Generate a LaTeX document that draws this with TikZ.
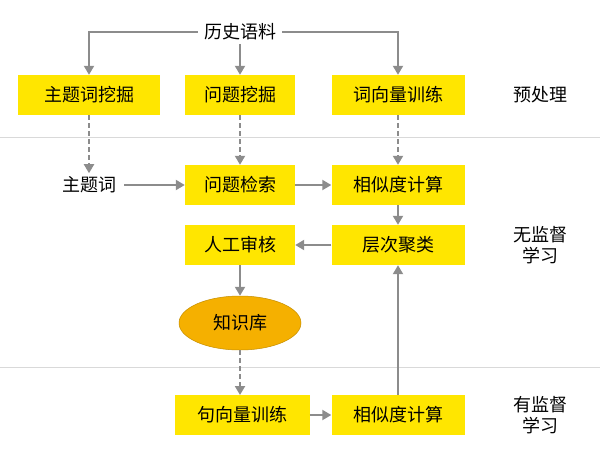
\documentclass[tikz,border=0pt]{standalone}
\usepackage{fontspec}
\setmainfont{Noto Sans CJK SC}
\usetikzlibrary{arrows.meta,shapes.geometric}
\definecolor{ybox}{HTML}{FFE600}
\definecolor{orng}{HTML}{F5B000}
\definecolor{ln}{HTML}{8C8C8C}
\begin{document}
\begin{tikzpicture}[x=1pt,y=-1pt,
  box/.style={fill=ybox,minimum height=40pt,font=\fontsize{18}{21}\selectfont,inner sep=0pt},
  lbl/.style={font=\fontsize{18}{21}\selectfont,align=center},
  arr/.style={draw=ln,line width=2pt,-{Triangle[length=9pt,width=10pt]}},
  darr/.style={arr,dash pattern=on 5pt off 3pt}]
\useasboundingbox (0,0) rectangle (600,459);
\draw[gray!30,line width=1pt] (0,137) -- (600,137) (0,367) -- (600,367);
\node[lbl,inner xsep=6pt] (src) at (240,32) {历史语料};
\node[box,minimum width=142pt] (a1) at (89,95) {主题词挖掘};
\node[box,minimum width=110pt] (a2) at (240,95) {问题挖掘};
\node[box,minimum width=133pt] (a3) at (398,95) {词向量训练};
\node[lbl] at (540,95) {预处理};
\node[lbl,inner xsep=8pt] (kw) at (89,185) {主题词};
\node[box,minimum width=110pt] (b2) at (240,185) {问题检索};
\node[box,minimum width=133pt] (b3) at (398,185) {相似度计算};
\node[box,minimum width=110pt] (c2) at (240,245) {人工审核};
\node[box,minimum width=133pt] (c3) at (398,245) {层次聚类};
\node[lbl] at (540,245) {无监督\\学习};
\node[ellipse,fill=orng,draw=orng!80!black,line width=0.5pt,minimum width=122pt,minimum height=54pt,font=\fontsize{18}{21}\selectfont,inner sep=0pt] (kb) at (240,323) {知识库};
\node[box,minimum width=135pt] (d2) at (242,415) {句向量训练};
\node[box,minimum width=133pt] (d3) at (398,415) {相似度计算};
\node[lbl] at (540,415) {有监督\\学习};
\draw[arr] (src.west) -| (a1.north);
\draw[arr] (src.south) -- (a2.north);
\draw[arr] (src.east) -| (a3.north);
\draw[darr] (a1.south) -- (kw.north);
\draw[darr] (a2.south) -- (b2.north);
\draw[darr] (a3.south) -- (b3.north);
\draw[arr] (kw.east) -- (b2.west);
\draw[arr] (b2.east) -- (b3.west);
\draw[arr] (b3.south) -- (c3.north);
\draw[arr] (c3.west) -- (c2.east);
\draw[arr] (c2.south) -- (kb.north);
\draw[darr] (kb.south) -- (240,395);
\draw[arr] (d2.east) -- (d3.west);
\draw[arr] (d3.north) -- (c3.south);
\end{tikzpicture}
\end{document}
